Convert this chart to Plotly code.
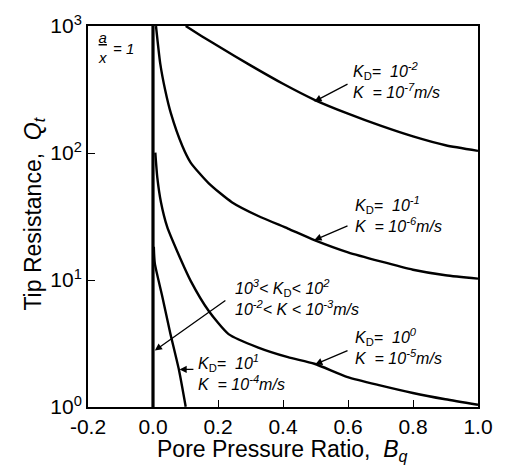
import plotly.graph_objects as go

# ---- data (Bq, Qt) ----
kd_m2_x = [0.1006, 0.15, 0.2, 0.3, 0.4, 0.5, 0.6, 0.7, 0.8, 0.9, 1.0]
kd_m2_y = [1000, 832, 695, 490, 351, 260, 204, 164, 135, 115, 104]

kd_m1_x = [0.0092, 0.0223, 0.0376, 0.0549, 0.0903, 0.1158, 0.1716, 0.2425, 0.3239, 0.4152, 0.4966, 0.6, 0.7, 0.8, 0.9, 1.0]
kd_m1_y = [1000, 506, 312, 206, 113.5, 84.1, 57.7, 41.0, 31.9, 25.4, 20.6, 16.5, 14.0, 12.05, 10.9, 10.25]

kd_0_x = [0.0071, 0.0132, 0.0245, 0.0437, 0.075, 0.1168, 0.1716, 0.2325, 0.3239, 0.4152, 0.4966, 0.5989, 0.6985, 0.7996, 0.8995, 1.0]
kd_0_y = [100.6, 64.3, 41.0, 26.2, 16.7, 9.76, 5.70, 3.75, 2.94, 2.47, 2.19, 1.72, 1.48, 1.29, 1.15, 1.04]

kd_1_x = [0.0025, 0.0056, 0.0284, 0.0528, 0.0802, 0.1006]
kd_1_y = [18.3, 13.5, 7.46, 3.84, 1.94, 1.006]

kd_hi_x = [0.0, 0.0]
kd_hi_y = [1, 1000]

x_tickvals = [-0.2, 0.0, 0.2, 0.4, 0.6, 0.8, 1.0]
x_ticktext = ["-0.2", "0.0", "0.2", "0.4", "0.6", "0.8", "1.0"]
y_tickvals = [1, 10, 100, 1000]
y_ticktext = ["10<sup>0</sup>", "10<sup>1</sup>", "10<sup>2</sup>", "10<sup>3</sup>"]

FONT = "Liberation Sans, Arial, sans-serif"
LW = 2.4

fig = go.Figure()
for xs, ys, w in [(kd_m2_x, kd_m2_y, LW), (kd_m1_x, kd_m1_y, LW), (kd_0_x, kd_0_y, LW),
                  (kd_1_x, kd_1_y, LW), (kd_hi_x, kd_hi_y, 3.2)]:
    fig.add_trace(go.Scatter(x=xs, y=ys, mode="lines",
                             line=dict(color="black", width=w, shape="spline", smoothing=0.6),
                             showlegend=False, hoverinfo="skip"))

W, H = 505, 468
# plot-area edges in pixels
L, R, T, B = 88, 482, 22, 407


def P(px, py):
    x = -0.2 + (px - L) / (R - L) * 1.2
    ly = 3 - (py - T) / (B - T) * 3
    return x, ly


def paper(px, py):
    return (px - L) / (R - L), (B - py) / (B - T)


ann = []


def text(px, py, s, anchor="left", size=16):
    x, y = P(px, py)
    ann.append(dict(x=x, y=y, xref="x", yref="y", text=s, showarrow=False, xanchor=anchor,
                    yanchor="middle", align="left" if anchor == "left" else "center",
                    font=dict(family=FONT, size=size, color="black")))


def arrow(tx, ty, hx, hy):
    ax, ay = P(tx, ty)
    x, y = P(hx, hy)
    ann.append(dict(x=x, y=y, ax=ax, ay=ay, xref="x", yref="y", axref="x", ayref="y", text="",
                    showarrow=True, arrowhead=2, arrowsize=1.1, arrowwidth=1.3, arrowcolor="black"))


text(354, 77, "<i>K</i><sub>D</sub><i>=  10<sup>-2</sup></i><br><i>K  = 10<sup>-7</sup>m/s</i>")
arrow(351.7, 80, 316.7, 98.3)
text(356, 212, "<i>K</i><sub>D</sub><i>=  10<sup>-1</sup></i><br><i>K  = 10<sup>-6</sup>m/s</i>")
arrow(351.7, 223.3, 316.7, 238.3)
text(356, 346, "<i>K</i><sub>D</sub><i>=  10<sup>0</sup></i><br><i>K  = 10<sup>-5</sup>m/s</i>")
arrow(351.7, 349.3, 317.5, 364)
text(234, 296, "<i>10<sup>3</sup>< K</i><sub>D</sub><i>< 10<sup>2</sup></i><br><i>10<sup>-2</sup>< K < 10<sup>-3</sup>m/s</i>")
arrow(228.3, 298.3, 155.5, 350)
text(197, 372, "<i>K</i><sub>D</sub><i>=  10<sup>1</sup></i><br><i>K  = 10<sup>-4</sup>m/s</i>")
arrow(196, 369, 180.5, 369)
text(103, 44, "<i><u>a</u></i><br><i>x</i>", anchor="center", size=15)
text(111, 45, "<i>= 1</i>", size=15)

# axis titles
yx, yy = paper(33, 212)
ann.append(dict(xref="paper", yref="paper", x=yx, y=yy, text="Tip Resistance,  <i>Q<sub>t</sub></i>",
                textangle=-90, showarrow=False, xanchor="center", yanchor="middle",
                font=dict(family=FONT, size=23, color="black")))
xx, xy = paper(284, 451)
ann.append(dict(xref="paper", yref="paper", x=xx, y=xy, text="Pore Pressure Ratio,  <i>B<sub>q</sub></i>",
                showarrow=False, xanchor="center", yanchor="middle",
                font=dict(family=FONT, size=23, color="black")))

fig.update_layout(
    width=W, height=H, autosize=False,
    margin=dict(l=L, r=W - R, t=T, b=H - B, pad=0),
    paper_bgcolor="white", plot_bgcolor="white",
    annotations=ann,
    font=dict(family=FONT, color="black"),
)
fig.update_xaxes(range=[-0.2, 1.0], tickvals=x_tickvals, ticktext=x_ticktext, ticks="inside", ticklen=7,
                 tickwidth=1.3, tickcolor="black", showline=True, linecolor="black", linewidth=2,
                 mirror=True, showgrid=False, zeroline=False, tickfont=dict(family=FONT, size=21, color="black"))
fig.update_yaxes(type="log", range=[0, 3], tickvals=y_tickvals, ticktext=y_ticktext, ticks="inside", ticklen=7,
                 tickwidth=1.3, tickcolor="black", showline=True, linecolor="black", linewidth=2,
                 mirror=True, showgrid=False, zeroline=False, tickfont=dict(family=FONT, size=21, color="black"))

# remove the browser's default 8px body margin so the figure sits at the window's corner
fig.write_html("out.html", config={"displayModeBar": False},
               post_script="document.body.style.margin='0';document.body.style.overflow='hidden';")
